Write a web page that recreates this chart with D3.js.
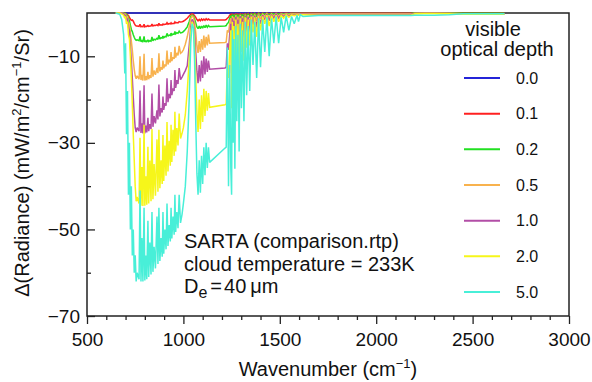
<!DOCTYPE html>
<html>
<head>
<meta charset="utf-8">
<script src="https://cdn.jsdelivr.net/npm/d3@7"></script>
<style>
  html, body { margin: 0; padding: 0; background: #fff; }
  svg { display: block; font-family: "Liberation Sans", Arial, Helvetica, sans-serif; }
</style>
</head>
<body>
<svg id="chart" width="592" height="382"></svg>
<script>
// Spectral grid (cm^-1) shared by the cloudy cases
const wavenumber = [
  649, 670, 680, 690, 696, 700, 705, 710, 715, 720, 725, 730, 735, 740, 745, 750, 755, 760,
  770, 775, 780, 785, 790, 796, 800, 806, 810, 816, 820, 826, 832, 837, 842, 848, 855, 863, 868, 873, 878, 884,
  890, 894, 898, 904, 910, 915, 920, 926, 932, 936, 940, 946, 952, 956, 960, 966, 972, 978, 985, 993, 1000,
  1010, 1020, 1030, 1038, 1045, 1052, 1058, 1064, 1070, 1076,
  1082, 1088, 1094, 1100, 1106, 1112, 1118, 1124, 1130, 1136, 1216, 1222, 1228, 1234, 1240, 1246,
  1250, 1254, 1258, 1262, 1267, 1272, 1277, 1283, 1289, 1295, 1301, 1307, 1314, 1321, 1328, 1336, 1344, 1352,
  1361, 1370, 1380, 1390, 1400, 1411, 1422, 1433, 1445, 1457, 1469, 1481, 1494, 1507, 1520, 1533, 1547, 1561,
  1575, 1589, 1597, 1606,
  1620, 1700, 1800, 1900, 2000, 2100, 2180, 2200, 2250, 2300, 2380, 2450, 2550, 2665
];

// Clear sky reference (optical depth 0)
const clearWavenumber = [649, 2665];
const depth00 = [0, 0];

// Delta radiance, mW/m2/cm-1/sr, for each visible optical depth
const depth01 = [
  0, 0, 0, 0, 0, -0.1, -0.2, -0.4, -0.6, -1.0, -1.4, -1.7, -1.6, -1.9, -2.4, -2.8, -3.0, -3.0,
  -3.1, -2.6, -3.2, -3.1, -3.2, -2.6, -3.2, -3.05, -3.1, -2.9, -3.1, -3.0, -3.0, -2.55, -3.0, -2.85, -2.9, -2.75, -2.9, -2.4, -2.8, -2.7,
  -2.8, -2.55, -2.7, -2.6, -2.6, -2.25, -2.6, -2.45, -2.5, -2.25, -2.5, -2.4, -2.4, -2.05, -2.3, -2.2, -2.3, -2.0, -2.1, -2.0, -1.9,
  -1.6, -1.2, -0.7, -0.3, -0.2, -0.3, -0.6, -1.0, -1.5, -1.8,
  -1.5, -1.8, -1.4, -1.7, -1.4, -1.7, -1.3, -1.6, -1.4, -1.6, -1.6, -1.5, -1.2, -1.0, -0.5, -0.3,
  -1.5, -0.15, -1.0, -0.2, -1.3, -0.1, -0.8, -0.15, -1.0, -0.1, -0.6, -0.15, -0.8, -0.05, -0.55, -0.1, -0.5, -0.05,
  -0.3, -0.05, -0.4, 0, -0.3, 0, -0.2, 0, -0.2, 0, -0.15, 0, -0.15, 0, -0.1, 0, -0.1, 0,
  -0.05, 0, -0.05, 0,
  0, 0, 0, 0, 0, 0, 0, 0, 0, 0, 0, 0, 0, 0
];
const depth02 = [
  0, 0, 0, 0, -0.1, -0.1, -0.4, -0.6, -1.2, -1.8, -2.8, -3.8, -4.3, -5.0, -5.6, -6.1, -6.3, -6.2,
  -6.4, -5.4, -6.6, -6.4, -6.7, -5.4, -6.7, -6.45, -6.6, -6.2, -6.6, -6.4, -6.5, -5.5, -6.4, -6.05, -6.2, -5.85, -6.1, -5.1, -6.0, -5.7,
  -5.8, -5.3, -5.7, -5.45, -5.5, -4.7, -5.4, -5.1, -5.2, -4.65, -5.1, -4.85, -4.9, -4.25, -4.8, -4.55, -4.7, -4.2, -4.6, -4.5, -4.3,
  -3.8, -3.2, -2.0, -0.8, -0.5, -0.7, -1.4, -2.3, -3.2, -3.6,
  -3.0, -3.6, -3.0, -3.5, -2.9, -3.4, -2.8, -3.3, -2.9, -3.2, -3.0, -2.9, -2.4, -2.2, -1.2, -0.6,
  -3.2, -0.3, -2.1, -0.45, -2.7, -0.25, -1.6, -0.35, -2.2, -0.2, -1.4, -0.3, -1.6, -0.15, -1.2, -0.2, -1.1, -0.1,
  -0.7, -0.15, -0.8, -0.1, -0.6, -0.1, -0.4, -0.1, -0.45, -0.1, -0.3, -0.1, -0.3, -0.1, -0.2, -0.1, -0.15, -0.1,
  -0.1, -0.1, -0.1, -0.1,
  -0.1, -0.1, -0.1, -0.1, -0.1, -0.1, -0.1, 0, 0, 0, 0, -0.05, -0.05, -0.05
];
const depth05 = [
  0, 0, 0, -0.1, -0.4, -0.3, -0.9, -0.8, -2.0, -2.6, -4.5, -6.5, -8.5, -11.0, -13.0, -14.5, -15.2, -14.5,
  -15.3, -10.0, -15.5, -14.3, -15.6, -9.4, -15.6, -14.6, -15.5, -13.6, -15.3, -14.4, -15.0, -10.4, -14.7, -13.3, -14.3, -12.7, -13.9, -9.3, -13.5, -12.5,
  -13.1, -11.0, -12.8, -11.9, -12.3, -8.7, -11.9, -10.8, -11.4, -9.0, -11.1, -10.2, -10.6, -7.8, -10.3, -9.2, -9.8, -7.6, -9.3, -9.0, -8.5,
  -7.2, -5.5, -3.2, -1.3, -0.7, -1.0, -2.2, -4.5, -7.5, -9.2,
  -6.5, -9.0, -6.0, -8.5, -5.2, -8.0, -5.5, -7.5, -5.0, -7.0, -6.8, -6.7, -4.0, -4.5, -2.5, -1.2,
  -7, -0.7, -4.6, -1.0, -6, -0.5, -3.6, -0.8, -5, -0.4, -3, -0.7, -3.6, -0.35, -2.6, -0.5, -2.5, -0.3,
  -1.5, -0.35, -1.8, -0.25, -1.3, -0.3, -0.8, -0.2, -1, -0.25, -0.7, -0.2, -0.7, -0.2, -0.4, -0.2, -0.35, -0.2,
  -0.25, -0.2, -0.2, -0.2,
  -0.2, -0.2, -0.2, -0.2, -0.2, -0.2, -0.2, -0.05, 0, 0, -0.05, -0.15, -0.15, -0.15
];
const depth10 = [
  0, 0, 0, -0.2, -0.7, -0.5, -1.5, -1.3, -3.2, -4.0, -7.5, -11.0, -15.0, -19.5, -23.5, -26.5, -27.5, -26.5,
  -27.3, -17.9, -27.7, -25.5, -27.8, -16.7, -27.8, -26.0, -27.6, -24.2, -27.3, -25.7, -26.8, -18.6, -26.3, -23.8, -25.5, -22.5, -24.6, -16.5, -23.9, -22.0,
  -23.0, -19.3, -22.4, -20.8, -21.4, -15.1, -20.6, -18.7, -19.7, -15.5, -19.0, -17.4, -18.0, -13.2, -17.3, -15.5, -16.4, -12.7, -15.4, -14.8, -14.2,
  -13.3, -12.2, -7.5, -3.2, -1.5, -2.0, -4.5, -9.0, -13.5, -16.2,
  -12.0, -15.8, -11.0, -15.0, -10.0, -14.2, -10.5, -13.6, -11.0, -13.0, -12.7, -12.5, -7.0, -8.5, -5.0, -2.5,
  -14, -1.2, -9, -1.8, -11, -0.9, -7, -1.5, -9, -0.7, -5.5, -1.2, -6.5, -0.6, -5, -0.9, -4.5, -0.5,
  -2.8, -0.6, -3.3, -0.4, -2.5, -0.5, -1.6, -0.3, -1.8, -0.4, -1.2, -0.3, -1.2, -0.3, -0.8, -0.3, -0.7, -0.3,
  -0.5, -0.3, -0.4, -0.3,
  -0.3, -0.35, -0.35, -0.35, -0.35, -0.35, -0.35, -0.1, -0.05, -0.05, -0.1, -0.25, -0.25, -0.25
];
const depth20 = [
  0, 0, -0.2, -0.5, -1.2, -0.8, -2.5, -2.0, -5.0, -6.0, -10.0, -15.0, -21.0, -28.0, -34.0, -40.0, -43.5, -42.5,
  -44.0, -28.8, -44.5, -35.6, -44.6, -25.8, -44.5, -37.7, -44.3, -30.9, -44.0, -34.1, -43.5, -26.8, -43.0, -34.9, -42.2, -29.2, -41.3, -27.0, -40.5, -34.0,
  -39.5, -28.2, -38.8, -30.6, -37.6, -25.2, -36.6, -29.5, -35.3, -25.8, -34.4, -27.0, -33.0, -22.8, -32.0, -26.6, -30.6, -23.2, -29.0, -27.8, -26.5,
  -23.5, -18.0, -11.0, -4.5, -2.0, -2.8, -7.0, -15.0, -23.0, -27.5,
  -20.0, -26.8, -19.0, -25.2, -17.5, -23.8, -18.0, -22.6, -18.5, -21.8, -21.2, -21.0, -12.0, -15.0, -9.0, -4.0,
  -22, -2, -14, -3, -18, -1.5, -11, -2.5, -15, -1.2, -9, -2, -11, -1, -8, -1.5, -7.5, -0.8,
  -4.5, -1, -5.5, -0.6, -4, -0.8, -2.5, -0.5, -3, -0.6, -2, -0.5, -2, -0.5, -1.2, -0.4, -1, -0.4,
  -0.6, -0.4, -0.5, -0.4,
  -0.4, -0.5, -0.5, -0.5, -0.5, -0.5, -0.5, -0.15, -0.1, -0.1, -0.15, -0.3, -0.3, -0.3
];
const depth50 = [
  0, -0.3, -1.5, -5, -14, -7, -28, -18, -42, -30, -50, -40, -56, -50, -60, -56, -62, -60,
  -61.5, -41, -62.0, -52, -62.0, -45, -61.8, -56, -61.5, -48, -61.0, -53, -60.4, -46, -59.8, -54, -59.0, -47, -58.0, -45, -57.3, -52,
  -56.3, -46, -55.6, -50, -54.6, -44, -53.8, -49, -52.8, -45, -52.1, -47, -51.2, -42, -50.6, -46, -49.7, -42, -48.5, -46.5, -44.0,
  -40, -32, -20, -7, -2.5, -3.5, -11, -25, -37, -42,
  -34, -41.5, -33, -39.5, -31, -37.5, -30, -35.8, -31, -34.5, -31.2, -31.0, -8, -40, -12, -36,
  -42, -4, -30, -6, -36, -3, -25, -5, -32, -2.5, -22, -4, -25, -2, -19, -3, -18, -1.5,
  -12, -2, -15, -1.2, -12.5, -1.5, -9, -1, -10, -1.2, -7, -0.8, -7, -1, -4.5, -0.6, -4, -0.8,
  -2.5, -0.5, -2, -0.4,
  -0.8, -0.6, -0.6, -0.6, -0.6, -0.6, -0.6, -0.5, -0.5, -0.5, -0.4, -0.2, -0.2, -0.2
];

const depthLabels = ["0.0", "0.1", "0.2", "0.5", "1.0", "2.0", "5.0"];
const depthColors = ["#2424d8", "#ff2020", "#22e022", "#f8b24e", "#b24ea6", "#f6f61a", "#48efd8"];

const xMajorTicks = [500, 1000, 1500, 2000, 2500, 3000];
const xMinorTicks = [600, 700, 800, 900, 1100, 1200, 1300, 1400, 1600, 1700, 1800, 1900,
                     2100, 2200, 2300, 2400, 2600, 2700, 2800, 2900];
const yMajorTicks = [-10, -30, -50, -70];
const yMinorTicks = [-20, -40, -60];

const svg = d3.select("#chart");
const plot = { left: 87, right: 569, top: 13, bottom: 316 };

const x = d3.scaleLinear().domain([500, 3000]).range([plot.left, plot.right]);
const y = d3.scaleLinear().domain([-70, 0]).range([plot.bottom, plot.top]);

const ink = "#222";
const minus = v => (v < 0 ? "\u2212" + Math.abs(v) : String(v));

// x axis: long outward major ticks with labels, short minor ticks
const xMajor = svg.append("g")
  .attr("transform", `translate(0,${plot.bottom})`)
  .call(d3.axisBottom(x).tickValues(xMajorTicks).tickSize(8).tickPadding(9).tickFormat(d3.format("d")));
const xMinor = svg.append("g")
  .attr("transform", `translate(0,${plot.bottom})`)
  .call(d3.axisBottom(x).tickValues(xMinorTicks).tickSize(4).tickFormat(""));

// y axis: ticks point into the plot
const yMajor = svg.append("g")
  .attr("transform", `translate(${plot.left},0)`)
  .call(d3.axisLeft(y).tickValues(yMajorTicks).tickSizeInner(-8).tickSizeOuter(0).tickPadding(7).tickFormat(minus));
const yMinor = svg.append("g")
  .attr("transform", `translate(${plot.left},0)`)
  .call(d3.axisLeft(y).tickValues(yMinorTicks).tickSizeInner(-4).tickSizeOuter(0).tickFormat(""));

[xMajor, xMinor, yMajor, yMinor].forEach(g => {
  g.select(".domain").remove();
  g.selectAll(".tick line").attr("stroke", ink).attr("stroke-width", 1.3);
  g.selectAll(".tick text")
    .attr("fill", "#111")
    .style("font-size", "19px")
    .style("font-family", "'Liberation Sans', Arial, sans-serif");
});

// plot frame
svg.append("rect")
  .attr("x", plot.left).attr("y", plot.top)
  .attr("width", plot.right - plot.left).attr("height", plot.bottom - plot.top)
  .attr("fill", "none").attr("stroke", ink).attr("stroke-width", 1.5);

// spectra, thinnest cloud first so the optically thick case sits on top
const line = d3.line().x(d => x(d[0])).y(d => y(d[1]));
const spectra = [
  { wn: clearWavenumber, values: depth00 },
  { wn: wavenumber, values: depth01 },
  { wn: wavenumber, values: depth02 },
  { wn: wavenumber, values: depth05 },
  { wn: wavenumber, values: depth10 },
  { wn: wavenumber, values: depth20 },
  { wn: wavenumber, values: depth50 }
];

svg.append("g").selectAll("path")
  .data(spectra)
  .join("path")
  .attr("d", s => line(s.wn.map((w, i) => [w, s.values[i]])))
  .attr("fill", "none")
  .attr("stroke", (s, i) => depthColors[i])
  .attr("stroke-width", 1.5)
  .attr("stroke-linejoin", "miter")
  .attr("stroke-miterlimit", 2);

// legend
const legend = svg.append("g");
legend.append("text").attr("x", 493).attr("y", 36).attr("text-anchor", "middle")
  .style("font-size", "20px").attr("fill", "#111").text("visible");
legend.append("text").attr("x", 497).attr("y", 56).attr("text-anchor", "middle")
  .style("font-size", "20px").attr("fill", "#111").text("optical depth");

const rowY = d3.scaleLinear().domain([0, depthLabels.length - 1]).range([78, 292]);
const rows = legend.selectAll("g.row").data(depthLabels).join("g").attr("class", "row")
  .attr("transform", (d, i) => `translate(0,${rowY(i)})`);
rows.append("line").attr("x1", 464).attr("x2", 500).attr("y1", 0).attr("y2", 0)
  .attr("stroke", (d, i) => depthColors[i]).attr("stroke-width", 2);
rows.append("text").attr("x", 516).attr("y", 5.5)
  .style("font-size", "16px").attr("fill", "#111").text(d => d);

// annotation
const note = svg.append("g").style("font-size", "20px").attr("fill", "#111");
note.append("text").attr("x", 184).attr("y", 248).text("SARTA (comparison.rtp)");
note.append("text").attr("x", 184).attr("y", 271).text("cloud temperature = 233K");
const de = note.append("text").attr("x", 184).attr("y", 293);
de.append("tspan").text("D");
de.append("tspan").attr("dy", 5).style("font-size", "16px").text("e");
de.append("tspan").attr("dy", -5).attr("dx", 3).text("=");
de.append("tspan").attr("dx", 2).text("40");
de.append("tspan").attr("dx", 4).text("\u03bcm");

// axis titles
const xTitle = svg.append("text").attr("x", 328).attr("y", 376).attr("text-anchor", "middle")
  .style("font-size", "20px").attr("fill", "#111");
xTitle.append("tspan").text("Wavenumber (cm");
xTitle.append("tspan").attr("dy", -8).style("font-size", "13px").text("\u22121");
xTitle.append("tspan").attr("dy", 8).text(")");

const yTitle = svg.append("text")
  .attr("transform", "translate(29,163) rotate(-90)")
  .attr("text-anchor", "middle")
  .style("font-size", "20px").attr("fill", "#111");
yTitle.append("tspan").text("\u0394(Radiance) (mW/m");
yTitle.append("tspan").attr("dy", -8).style("font-size", "13px").text("2");
yTitle.append("tspan").attr("dy", 8).text("/cm");
yTitle.append("tspan").attr("dy", -8).style("font-size", "13px").text("\u22121");
yTitle.append("tspan").attr("dy", 8).text("/Sr)");
</script>
</body>
</html>
